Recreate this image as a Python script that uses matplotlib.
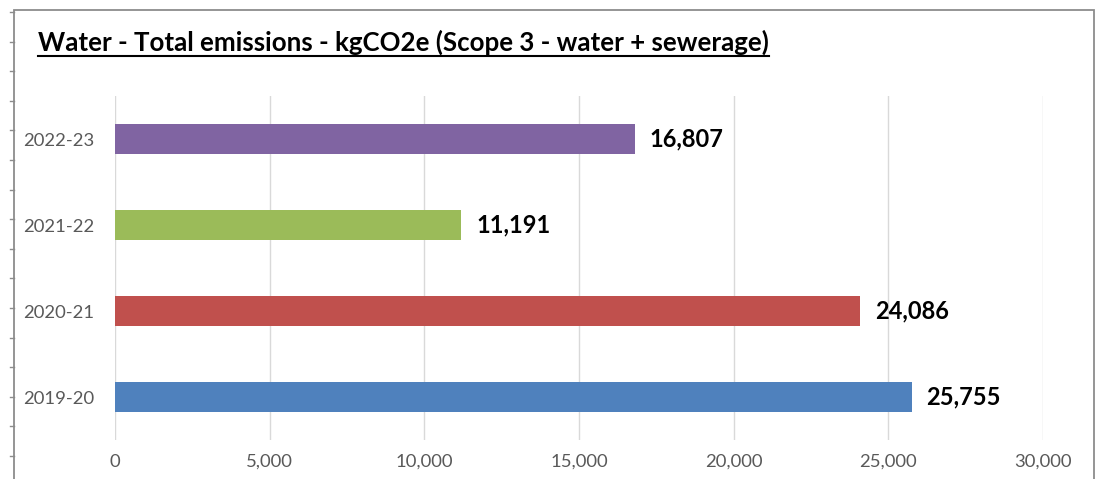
import matplotlib.pyplot as plt
from matplotlib.lines import Line2D
from matplotlib.patches import Rectangle

# data
years = ['2019-20', '2020-21', '2021-22', '2022-23']
emissions = [25755, 24086, 11191, 16807]
colors = ['#4F81BD', '#C0504D', '#9BBB59', '#8064A2']
x_ticks = [0, 5000, 10000, 15000, 20000, 25000, 30000]

W, H = 1098, 479
fig = plt.figure(figsize=(W / 100, H / 100), dpi=100)
ax = fig.add_axes([115 / W, 1 - 440 / H, (1043 - 115) / W, (440 - 96) / H])

ypos = list(range(len(years)))
ax.barh(ypos, emissions, height=0.35, color=colors, zorder=3)
for y, v in zip(ypos, emissions):
    ax.text(v + 480, y, f'{v:,}', va='center', ha='left', fontsize=17,
            fontweight='bold', family='Lato', color='black')

ax.set_xlim(0, 30000)
ax.set_ylim(-0.5, 3.5)
ax.set_xticks(x_ticks)
ax.set_xticklabels([f'{t:,}' for t in x_ticks], family='Lato', fontsize=13.3, color='#595959')
ax.set_yticks(ypos)
ax.set_yticklabels(years, family='Lato', fontsize=13.3, color='#595959')
ax.tick_params(length=0)
ax.tick_params(axis='x', pad=10)
ax.tick_params(axis='y', pad=15)
ax.grid(axis='x', color='#D9D9D9', linewidth=1, zorder=0)
for s in ax.spines.values():
    s.set_visible(False)

# chart frame (screenshot cuts off at the bottom)
fig.patches.append(Rectangle((14 / W, -0.1), (1094 - 14) / W, 1.1 - 10 / H,
                             transform=fig.transFigure, fill=False,
                             edgecolor='#8C8C8C', linewidth=1.3))
# ruler-ish ticks along the left edge
yy = 12
while yy < H:
    fig.lines.append(Line2D([10 / W, 14 / W], [1 - yy / H, 1 - yy / H],
                            transform=fig.transFigure, color='#8C8C8C', linewidth=1))
    yy += 29.6

title = fig.text(38 / W, 1 - 42 / H,
                 'Water - Total emissions - kgCO2e (Scope 3 - water + sewerage)',
                 ha='left', va='center', fontsize=18.6, fontweight='bold',
                 family='Lato', color='black')
fig.canvas.draw()
bb = title.get_window_extent()
uy = bb.y0 - 1
fig.lines.append(Line2D([bb.x0 / W, bb.x1 / W], [uy / H, uy / H],
                        transform=fig.transFigure, color='black', linewidth=1.5))

fig.savefig('out.png', dpi=100)
